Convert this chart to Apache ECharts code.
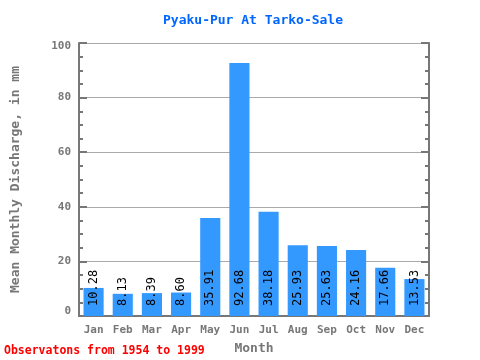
<!DOCTYPE html>
<html><head><meta charset="utf-8">
<script src="https://cdn.jsdelivr.net/npm/echarts@6/dist/echarts.min.js"></script>
<style>html,body{margin:0;padding:0;background:#fff}#c{width:480px;height:360px}</style>
</head><body><div id="c"></div>
<script>
const months = ['Jan','Feb','Mar','Apr','May','Jun','Jul','Aug','Sep','Oct','Nov','Dec'];
const discharge = [10.28, 8.13, 8.39, 8.60, 35.91, 92.68, 38.18, 25.93, 25.63, 24.16, 17.66, 13.53];
const yTicks = [0, 20, 40, 60, 80, 100];

const font = 'DejaVu Sans Mono, monospace';
const gray = '#777777';
const chart = echarts.init(document.getElementById('c'), null, {renderer: 'canvas'});
chart.setOption({
  animation: false,
  title: {
    text: 'Pyaku-Pur At Tarko-Sale', left: 158, top: 9,
    textStyle: {color: '#0066ff', fontFamily: font, fontSize: 13, fontWeight: 'bold'}
  },
  graphic: [{
    type: 'text', left: 4, top: 345,
    style: {text: 'Observatons from 1954 to 1999', fill: '#ff0000', font: 'bold 11.5px ' + font}
  }],
  grid: {left: 79, right: 51, top: 43, bottom: 38},
  xAxis: [{
    type: 'category', data: months, position: 'bottom',
    name: 'Month', nameLocation: 'middle', nameGap: 26,
    nameTextStyle: {color: gray, fontFamily: font, fontSize: 13, fontWeight: 'bold'},
    axisLine: {lineStyle: {color: gray, width: 2}},
    axisTick: {inside: true, length: 8, lineStyle: {color: gray, width: 2}},
    axisLabel: {color: gray, fontFamily: font, fontSize: 11, fontWeight: 'bold', margin: 9}
  }, {
    type: 'category', data: months, position: 'top',
    axisLine: {lineStyle: {color: gray, width: 2}},
    axisTick: {inside: true, length: 8, lineStyle: {color: gray, width: 2}},
    axisLabel: {show: false}
  }],
  yAxis: [{
    type: 'value', min: yTicks[0], max: yTicks[yTicks.length - 1], interval: 20,
    name: 'Mean Monthly Discharge, in mm', nameLocation: 'middle', nameGap: 57,
    nameTextStyle: {color: gray, fontFamily: font, fontSize: 13, fontWeight: 'bold'},
    axisLine: {show: true, lineStyle: {color: gray, width: 2}},
    axisTick: {show: true, inside: true, length: 8, lineStyle: {color: gray, width: 2}},
    minorTick: {show: true, splitNumber: 4, length: 4, lineStyle: {color: gray, width: 2}},
    splitLine: {show: true, lineStyle: {color: '#aaaaaa', width: 1}},
    axisLabel: {
      color: gray, fontFamily: font, fontSize: 11, fontWeight: 'bold', margin: 8,
      formatter: v => v === yTicks[0] ? '{lo|' + v + '}' : (v === yTicks[yTicks.length - 1] ? '{hi|' + v + '}' : String(v)),
      rich: {
        lo: {color: gray, fontFamily: font, fontSize: 11, fontWeight: 'bold', padding: [0, 0, 10, 0]},
        hi: {color: gray, fontFamily: font, fontSize: 11, fontWeight: 'bold', padding: [6, 0, 0, 0]}
      }
    }
  }, {
    type: 'value', min: 0, max: 100, interval: 20, position: 'right',
    axisLine: {show: true, lineStyle: {color: gray, width: 2}},
    axisTick: {show: true, inside: true, length: 8, lineStyle: {color: gray, width: 2}},
    minorTick: {show: true, splitNumber: 4, length: 4, lineStyle: {color: gray, width: 2}},
    splitLine: {show: false},
    axisLabel: {show: false}
  }],
  series: [{
    type: 'bar', data: discharge, barWidth: '69%',
    itemStyle: {color: '#3399ff'},
    label: {
      show: true, position: 'insideBottom', rotate: 90, align: 'left', verticalAlign: 'middle',
      distance: 10, color: '#000', fontFamily: font, fontSize: 12,
      formatter: p => p.value.toFixed(2)
    }
  }]
});
</script></body></html>
